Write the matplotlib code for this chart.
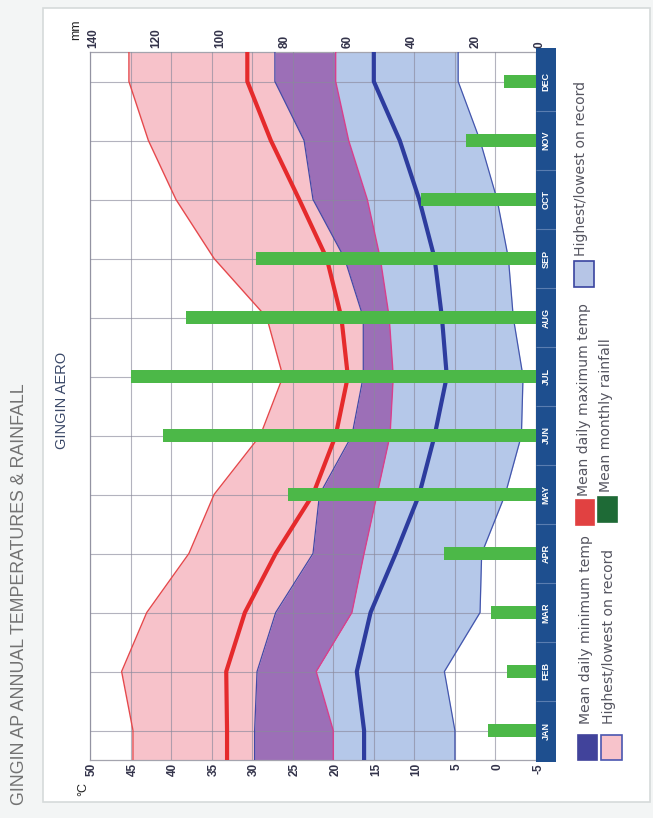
import numpy as np
import matplotlib
matplotlib.use('Agg')
import matplotlib.pyplot as plt
from matplotlib.patches import Rectangle
import matplotlib.transforms as mtransforms

plt.rcParams['font.family'] = ['Liberation Sans', 'DejaVu Sans']

months = ['JAN', 'FEB', 'MAR', 'APR', 'MAY', 'JUN', 'JUL', 'AUG', 'SEP', 'OCT', 'NOV', 'DEC']
max_highest = [44.7, 46.1, 43.0, 37.8, 34.7, 29.0, 26.2, 28.2, 34.7, 39.4, 42.8, 45.2]
max_mean = [33.1, 33.2, 30.9, 27.1, 22.5, 19.7, 18.2, 19.0, 20.8, 24.2, 27.7, 30.6]
max_lowest = [20.0, 22.1, 17.7, 16.2, 14.6, 13.0, 12.6, 13.1, 14.2, 15.8, 18.1, 19.7]
min_highest = [29.7, 29.4, 27.1, 22.5, 21.7, 17.7, 16.3, 16.3, 18.6, 22.5, 23.6, 27.2]
min_mean = [16.2, 17.1, 15.4, 12.3, 9.4, 7.5, 6.0, 6.6, 7.5, 9.4, 11.8, 15.0]
min_lowest = [5.0, 6.3, 1.9, 1.7, -1.2, -3.2, -3.4, -2.2, -1.6, -0.2, 1.9, 4.6]
rainfall = [15, 9, 14, 29, 78, 117, 127, 110, 88, 36, 22, 10]
temp_ticks = [50, 45, 40, 35, 30, 25, 20, 15, 10, 5, 0, -5]
rain_ticks = [140, 120, 100, 80, 60, 40, 20, 0]

W, H = 653, 818
fig = plt.figure(figsize=(W / 100, H / 100), dpi=100, facecolor='#f3f5f5')


def fx(px):
    return px / W


def fy(py):
    return 1 - py / H


# white card
fig.patches.append(Rectangle((fx(43), fy(802)), fx(650) - fx(43), fy(8) - fy(802),
                             transform=fig.transFigure, facecolor='white',
                             edgecolor='#d6dada', lw=1.2, zorder=-5))

PL, PR, PT, PB = 90, 536, 52, 760
ax = fig.add_axes([fx(PL), fy(PB), (PR - PL) / W, (PB - PT) / H])
ax.set_zorder(1)
ax.set_xlim(50, -5)
ax.set_ylim(0.5, 12.5)

pos = np.arange(1, 13)
yext = np.concatenate([[0.5], pos, [12.5]])


def ext(v):
    return np.concatenate([[v[0]], v, [v[-1]]])


pink = '#f7c2ca'
purple = '#9c6fb7'
lblue = '#b5c8e9'
ax.fill_betweenx(yext, ext(max_highest), ext(min_highest), color=pink, lw=0, zorder=1)
ax.fill_betweenx(yext, ext(min_highest), ext(max_lowest), color=purple, lw=0, zorder=1)
ax.fill_betweenx(yext, ext(max_lowest), ext(min_lowest), color=lblue, lw=0, zorder=1)

ax.set_xticks(temp_ticks)
ax.set_yticks(pos)
ax.set_axisbelow(False)
ax.grid(True, color='#8a8a9c', lw=0.8, alpha=0.65)
ax.tick_params(length=0, labelbottom=False, labelleft=False)
for s in ax.spines.values():
    s.set_color('#a4a4ae')
    s.set_linewidth(0.9)

ax.plot(ext(max_highest), yext, color='#e5484c', lw=1.0, zorder=3)
ax.plot(ext(min_highest), yext, color='#4348a6', lw=0.9, zorder=3)
ax.plot(ext(max_lowest), yext, color='#d8408c', lw=1.0, zorder=3)
ax.plot(ext(min_lowest), yext, color='#4456ad', lw=0.9, zorder=3)
ax.plot(ext(max_mean), yext, color='#e52a2c', lw=3.0, zorder=4)
ax.plot(ext(min_mean), yext, color='#2d3c9e', lw=3.0, zorder=4)

# temperature tick labels
toff = mtransforms.ScaledTranslation(2 / 100, -3 / 100, fig.dpi_scale_trans)
tb = mtransforms.blended_transform_factory(ax.transData, ax.transAxes)
for t in temp_ticks:
    ax.text(t, 0, str(t), transform=tb + toff, rotation=90, ha='center', va='top',
            fontsize=8.5, color='#33334a', fontweight='bold')

# rainfall axis
ax2 = ax.twiny()
ax2.set_xlim(140, 0)
ax2.barh(pos, rainfall, height=0.21, left=0, color='#4cb848', zorder=5)
ax2.set_xticks(rain_ticks)
ax2.tick_params(length=0, labeltop=False, labelbottom=False)
for s in ax2.spines.values():
    s.set_visible(False)
roff = mtransforms.ScaledTranslation(3 / 100, 4 / 100, fig.dpi_scale_trans)
rb = mtransforms.blended_transform_factory(ax2.transData, ax2.transAxes)
for r in rain_ticks:
    ax2.text(r, 1, str(r), transform=rb + roff, rotation=90, ha='center', va='bottom',
             fontsize=8.5, color='#33334a', fontweight='bold')

# month strip
sax = fig.add_axes([fx(536), fy(762), 20 / W, (762 - 48) / H])
sax.set_zorder(1)
sax.set_facecolor('#1e4f8f')
sax.set_xlim(0, 1)
sax.set_ylim(0.5 - 2 / 59, 12.5 + 4 / 59)
sax.set_xticks([])
sax.set_yticks([])
for s in sax.spines.values():
    s.set_visible(False)
sax.hlines(np.arange(1.5, 12.5, 1), 0, 1, color='#5a7db0', lw=0.8)
for i, m in enumerate(months):
    sax.text(0.5, pos[i], m, rotation=90, ha='center', va='center', color='white',
             fontsize=6.5, fontweight='bold')

# texts
fig.text(fx(20), fy(805), 'GINGIN AP ANNUAL TEMPERATURES & RAINFALL', rotation=90,
         ha='center', va='bottom', fontsize=12.8, color='#727272')
fig.text(fx(62), fy(400), 'GINGIN AERO', rotation=90, ha='center', va='center',
         fontsize=10.5, color='#3a4868')
fig.text(fx(76), fy(30), 'mm', rotation=90, ha='center', va='center', fontsize=9,
         color='#222222')
fig.text(fx(83), fy(789), '°C', rotation=90, ha='center', va='center', fontsize=9,
         color='#222222')


# legend
def box(x0, x1, y0, y1, fc, ec=None):
    fig.patches.append(Rectangle((fx(x0), fy(y1)), fx(x1) - fx(x0), fy(y0) - fy(y1),
                                 transform=fig.transFigure, facecolor=fc,
                                 edgecolor=ec if ec else fc, lw=1.2, zorder=2))


box(578, 597, 735, 760, '#41439b')
box(601, 622, 735, 760, '#f7c3cb', '#4a56b0')
box(576, 594, 500, 525, '#e14141')
box(598, 617, 497, 522, '#1e6a36')
box(574, 594, 261, 287, '#b6c5e6', '#3a44a0')

lg = dict(rotation=90, ha='center', va='bottom', fontsize=10.1, color='#555560',
          family=['DejaVu Sans'])
fig.text(fx(586), fy(724), 'Mean daily minimum temp', **lg)
fig.text(fx(609), fy(724), 'Highest/lowest on record', **lg)
fig.text(fx(584), fy(496), 'Mean daily maximum temp', **lg)
fig.text(fx(606), fy(492), 'Mean monthly rainfall', **lg)
fig.text(fx(581), fy(256), 'Highest/lowest on record', **lg)

fig.savefig('out.png', dpi=100, facecolor=fig.get_facecolor())
